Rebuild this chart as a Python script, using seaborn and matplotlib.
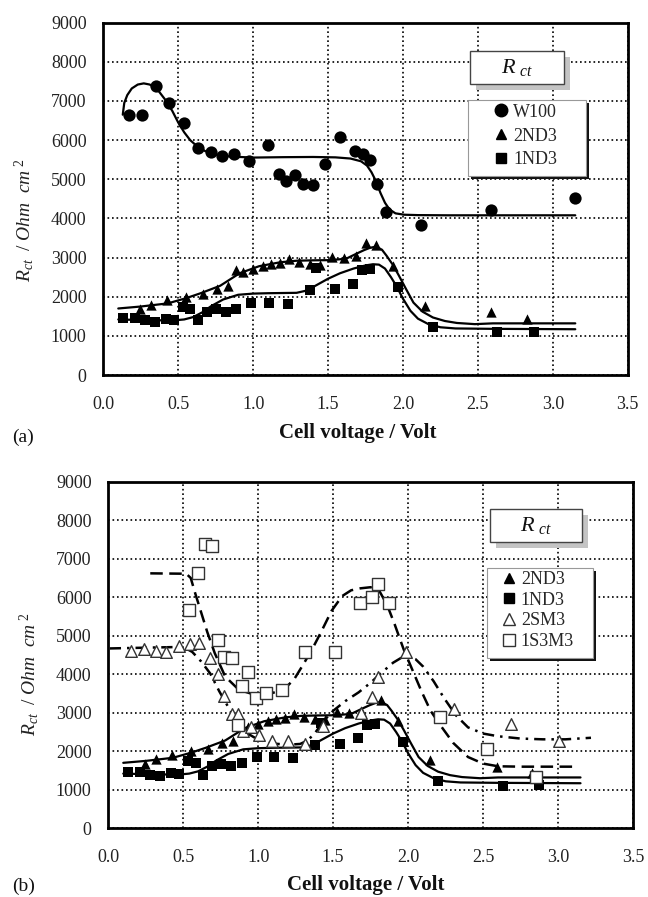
import matplotlib
matplotlib.use("Agg")
import matplotlib.pyplot as plt
import seaborn as sns
from matplotlib.lines import Line2D
from matplotlib.patches import Rectangle
from matplotlib import transforms

# ---------------- data ----------------
x_w100 = [0.17, 0.26, 0.35, 0.44, 0.54, 0.63, 0.72, 0.79, 0.875, 0.97, 1.10, 1.17, 1.22,
          1.28, 1.335, 1.40, 1.48, 1.58, 1.68, 1.73, 1.78, 1.83, 1.89, 2.12, 2.59, 3.15]
y_w100 = [6650, 6650, 7390, 6960, 6450, 5800, 5700, 5600, 5640, 5460, 5880, 5140, 4950,
          5120, 4880, 4860, 5400, 6070, 5710, 5640, 5500, 4880, 4160, 3830, 4210, 4510]

x_2nd3 = [0.244, 0.318, 0.427, 0.551, 0.667, 0.76, 0.829, 0.884, 0.933, 0.996, 1.067, 1.122, 1.178,
          1.24, 1.307, 1.378, 1.444, 1.529, 1.607, 1.684, 1.756, 1.822, 1.933, 2.144, 2.59, 2.826]
y_2nd3 = [1680, 1790, 1915, 2000, 2060, 2205, 2270, 2680, 2640, 2715, 2785, 2845, 2870,
          2955, 2885, 2845, 2800, 3015, 3000, 3040, 3380, 3320, 2785, 1765, 1600, 1430]

x_1nd3 = [0.133, 0.211, 0.278, 0.344, 0.416, 0.473, 0.529, 0.582, 0.633, 0.689, 0.751, 0.816, 0.889,
          0.989, 1.104, 1.233, 1.378, 1.422, 1.544, 1.667, 1.729, 1.778, 1.967, 2.20, 2.63, 2.876]
y_1nd3 = [1465, 1450, 1395, 1360, 1440, 1405, 1735, 1695, 1395, 1610, 1675, 1610, 1695,
          1847, 1847, 1821, 2170, 2740, 2187, 2332, 2681, 2698, 2247, 1231, 1104, 1112]

x_2sm3 = [0.154, 0.236, 0.319, 0.388, 0.47, 0.544, 0.608, 0.676, 0.729, 0.773, 0.828, 0.866, 0.90,
          0.949, 1.006, 1.094, 1.196, 1.314, 1.43, 1.685, 1.762, 1.798, 1.988, 2.304, 2.689, 3.005]
y_2sm3 = [4600, 4650, 4600, 4570, 4730, 4780, 4820, 4410, 4000, 3440, 2980, 2970, 2535,
          2640, 2420, 2275, 2275, 2190, 2660, 3000, 3420, 3940, 4585, 3090, 2710, 2270]

x_1s3m3 = [0.54, 0.60, 0.645, 0.69, 0.735, 0.775, 0.822, 0.862, 0.895, 0.935, 0.988, 1.055,
           1.158, 1.312, 1.512, 1.68, 1.76, 1.797, 1.87, 2.216, 2.524, 2.854]
y_1s3m3 = [5660, 6620, 7390, 7340, 4900, 4440, 4410, 2680, 3690, 4050, 3390, 3520,
           3580, 4570, 4570, 5860, 6010, 6340, 5860, 2880, 2060, 1320]

# fitted curves
cx_w100 = [0.13, 0.14, 0.16, 0.19, 0.23, 0.27, 0.31, 0.36, 0.41, 0.46, 0.50, 0.54, 0.58, 0.63,
           0.68, 0.75, 0.85, 1.0, 1.2, 1.4, 1.55, 1.65, 1.72, 1.76, 1.79, 1.82, 1.85, 1.88,
           1.91, 1.95, 2.01, 2.1, 2.3, 3.15]
cy_w100 = [6650, 6950, 7150, 7320, 7420, 7450, 7420, 7300, 7050, 6750, 6450, 6200, 6000, 5830,
           5720, 5630, 5580, 5555, 5565, 5570, 5560, 5530, 5460, 5350, 5180, 4950, 4650, 4400,
           4230, 4130, 4095, 4085, 4080, 4080]

cx_2nd3 = [0.1, 0.25, 0.43, 0.55, 0.65, 0.78, 0.91, 1.04, 1.18, 1.29, 1.4, 1.51, 1.62, 1.69,
           1.74, 1.78, 1.82, 1.86, 1.89, 1.93, 1.97, 2.02, 2.07, 2.13, 2.2, 2.28, 2.36, 2.48,
           2.6, 3.15]
cy_2nd3 = [1700, 1750, 1830, 1960, 2090, 2280, 2600, 2780, 2880, 2920, 2930, 2935, 2970, 3100,
           3190, 3250, 3280, 3200, 3050, 2830, 2560, 2200, 1850, 1620, 1470, 1380, 1330, 1300,
           1320, 1320]

cx_1nd3 = [0.1, 0.3, 0.47, 0.54, 0.6, 0.66, 0.72, 0.8, 0.9, 1.0, 1.1, 1.29, 1.36, 1.42, 1.5,
           1.58, 1.67, 1.75, 1.8, 1.84, 1.88, 1.92, 1.96, 2.0, 2.05, 2.1, 2.17, 2.25, 2.35,
           2.6, 3.15]
cy_1nd3 = [1420, 1400, 1395, 1420, 1480, 1600, 1760, 1930, 2050, 2080, 2090, 2100, 2160, 2290,
           2460, 2600, 2720, 2800, 2830, 2820, 2720, 2500, 2250, 1950, 1640, 1440, 1300, 1220,
           1190, 1180, 1170]

cx_1s3m3 = [0.28, 0.52, 0.55, 0.58, 0.62, 0.66, 0.71, 0.78, 0.87, 0.95, 1.02, 1.1, 1.17, 1.24,
            1.3, 1.36, 1.42, 1.49, 1.56, 1.62, 1.68, 1.75, 1.81, 1.86, 1.91, 1.97, 2.03, 2.09,
            2.15, 2.22, 2.3, 2.4, 2.5, 2.6, 2.75, 3.13]
cy_1s3m3 = [6620, 6610, 6500, 6100, 5600, 5100, 4550, 3940, 3600, 3500, 3470, 3520, 3600, 3870,
            4250, 4650, 5100, 5650, 6030, 6180, 6230, 6260, 6150, 5800, 5300, 4650, 4100, 3550,
            3050, 2650, 2220, 1850, 1680, 1610, 1600, 1600]

cx_2sm3 = [0.01, 0.25, 0.5, 0.56, 0.62, 0.68, 0.74, 0.8, 0.86, 0.93, 1.0, 1.1, 1.2, 1.28, 1.33,
           1.38, 1.44, 1.5, 1.58, 1.67, 1.75, 1.82, 1.9, 1.96, 2.0, 2.05, 2.1, 2.17, 2.24, 2.32,
           2.4, 2.5, 2.6, 2.75, 2.9, 3.05, 3.22]
cy_2sm3 = [4670, 4690, 4710, 4580, 4330, 4020, 3560, 3150, 2770, 2460, 2300, 2200, 2170, 2190,
           2280, 2480, 2800, 3050, 3300, 3530, 3780, 4030, 4300, 4440, 4460, 4390, 4200, 3820,
           3380, 2930, 2620, 2460, 2390, 2330, 2310, 2310, 2350]

x_ticks = [0.0, 0.5, 1.0, 1.5, 2.0, 2.5, 3.0, 3.5]
y_ticks = [0, 1000, 2000, 3000, 4000, 5000, 6000, 7000, 8000, 9000]
x_label = "Cell voltage / Volt"
y_label = r"$R_{ct}\ \ /\ Ohm\ \ cm^{\ 2}$"
box_label = r"$R\;{}_{ct}$"

# ---------------- style ----------------
sns.set_theme(style="white")
plt.rcParams["font.family"] = ["Liberation Serif", "DejaVu Serif"]
plt.rcParams["mathtext.fontset"] = "custom"
plt.rcParams["mathtext.it"] = "Liberation Serif:italic"
plt.rcParams["mathtext.rm"] = "Liberation Serif"
plt.rcParams["mathtext.cal"] = "Liberation Serif:italic"

fig = plt.figure(figsize=(6.48, 8.97), dpi=100)
ax1 = fig.add_axes([0.1594, 0.5819, 0.8093, 0.3928])
ax2 = fig.add_axes([0.1671, 0.0766, 0.8097, 0.3864])

DASH = (0, (5, 2.6))
DASHDOT = (0, (4.5, 2.4, 1.0, 2.4))
OPEN_EC = "#333333"


def style_axes(ax, ylab_xy, xlab_xy):
    ax.set_xlim(0, 3.5)
    ax.set_ylim(0, 9000)
    ax.set_xticks(x_ticks)
    ax.set_xticklabels([f"{v:.1f}" for v in x_ticks])
    ax.set_yticks(y_ticks)
    ax.set_yticklabels([str(v) for v in y_ticks])
    ax.tick_params(axis="x", length=0, pad=15, labelsize=13, colors="#222222")
    ax.tick_params(axis="y", length=0, pad=12, labelsize=13, colors="#222222")
    ax.grid(True, color="black", linestyle=(0, (1, 1.7)), linewidth=1.2)
    for s in ax.spines.values():
        s.set_linewidth(2.0)
        s.set_color("black")
    ax.set_xlabel(x_label, fontsize=15, fontweight="bold", color="#111111")
    ax.set_ylabel(y_label, fontsize=14, color="#222222")
    ax.xaxis.set_label_coords(*xlab_xy)
    ax.yaxis.set_label_coords(*ylab_xy)


def rct_box(ax, x0, y0, w, h):
    sh = transforms.offset_copy(ax.transAxes, fig=fig, x=6, y=-6, units="dots")
    ax.add_patch(Rectangle((x0, y0), w, h, transform=sh, facecolor="#c4c4c4",
                           edgecolor="none", zorder=5))
    ax.add_patch(Rectangle((x0, y0), w, h, transform=ax.transAxes, facecolor="white",
                           edgecolor="#444444", linewidth=1.0, zorder=6))
    ax.text(x0 + w / 2, y0 + h / 2, box_label, transform=ax.transAxes, ha="center",
            va="center", fontsize=16, zorder=7, color="#111111")


def legend_box(ax, x0, y0, w, h):
    sh = transforms.offset_copy(ax.transAxes, fig=fig, x=3, y=-3, units="dots")
    ax.add_patch(Rectangle((x0, y0), w, h, transform=sh, facecolor="#111111",
                           edgecolor="none", zorder=5))
    ax.add_patch(Rectangle((x0, y0), w, h, transform=ax.transAxes, facecolor="white",
                           edgecolor="#999999", linewidth=0.8, zorder=6))


# ---------------- panel (a) ----------------
sns.lineplot(x=cx_w100, y=cy_w100, ax=ax1, color="black", linewidth=1.6, sort=False,
             estimator=None, zorder=2)
sns.lineplot(x=cx_2nd3, y=cy_2nd3, ax=ax1, color="black", linewidth=1.6, sort=False,
             estimator=None, zorder=2)
sns.lineplot(x=cx_1nd3, y=cy_1nd3, ax=ax1, color="black", linewidth=1.6, sort=False,
             estimator=None, zorder=2)
sns.scatterplot(x=x_w100, y=y_w100, ax=ax1, marker="o", color="black", s=78,
                edgecolor="black", linewidth=0, zorder=3)
sns.scatterplot(x=x_2nd3, y=y_2nd3, ax=ax1, marker="^", color="black", s=55,
                edgecolor="black", linewidth=0, zorder=3)
sns.scatterplot(x=x_1nd3, y=y_1nd3, ax=ax1, marker="s", color="black", s=48,
                edgecolor="black", linewidth=0, zorder=3)
style_axes(ax1, (-0.128, 0.44), (0.486, -0.135))
rct_box(ax1, 0.699, 0.826, 0.180, 0.094)
legend_box(ax1, 0.695, 0.566, 0.225, 0.215)
h1 = [Line2D([], [], linestyle="none", marker="o", color="black", markersize=9),
      Line2D([], [], linestyle="none", marker="^", color="black", markersize=7.5),
      Line2D([], [], linestyle="none", marker="s", color="black", markersize=7)]
leg1 = ax1.legend(h1, ["W100", "2ND3", "1ND3"], loc="upper left",
                  bbox_to_anchor=(0.745, 0.770), frameon=False, fontsize=13,
                  handlelength=0.8, handletextpad=0.25, labelspacing=0.38,
                  borderpad=0, borderaxespad=0)
leg1.set_zorder(8)

# ---------------- panel (b) ----------------
sns.lineplot(x=cx_1s3m3, y=cy_1s3m3, ax=ax2, color="black", linewidth=1.8, sort=False,
             estimator=None, zorder=2, linestyle=DASH)
sns.lineplot(x=cx_2sm3, y=cy_2sm3, ax=ax2, color="black", linewidth=1.8, sort=False,
             estimator=None, zorder=2, linestyle=DASHDOT)
sns.lineplot(x=cx_2nd3, y=cy_2nd3, ax=ax2, color="black", linewidth=1.6, sort=False,
             estimator=None, zorder=2)
sns.lineplot(x=cx_1nd3, y=cy_1nd3, ax=ax2, color="black", linewidth=1.6, sort=False,
             estimator=None, zorder=2)
sns.scatterplot(x=x_2nd3, y=y_2nd3, ax=ax2, marker="^", color="black", s=55,
                edgecolor="black", linewidth=0, zorder=3)
sns.scatterplot(x=x_1nd3, y=y_1nd3, ax=ax2, marker="s", color="black", s=48,
                edgecolor="black", linewidth=0, zorder=3)
sns.scatterplot(x=x_2sm3, y=y_2sm3, ax=ax2, marker="^", color="white", s=70,
                edgecolor=OPEN_EC, linewidth=1.0, zorder=3)
sns.scatterplot(x=x_1s3m3, y=y_1s3m3, ax=ax2, marker="s", color="white", s=70,
                edgecolor=OPEN_EC, linewidth=1.0, zorder=3)
style_axes(ax2, (-0.128, 0.446), (0.491, -0.135))
rct_box(ax2, 0.727, 0.827, 0.176, 0.093)
legend_box(ax2, 0.721, 0.490, 0.202, 0.262)
h2 = [Line2D([], [], linestyle="none", marker="^", color="black", markersize=7.5),
      Line2D([], [], linestyle="none", marker="s", color="black", markersize=7),
      Line2D([], [], linestyle="none", marker="^", markerfacecolor="white",
             markeredgecolor=OPEN_EC, markersize=8.5),
      Line2D([], [], linestyle="none", marker="s", markerfacecolor="white",
             markeredgecolor=OPEN_EC, markersize=8)]
leg2 = ax2.legend(h2, ["2ND3", "1ND3", "2SM3", "1S3M3"], loc="upper left",
                  bbox_to_anchor=(0.750, 0.742), frameon=False, fontsize=13,
                  handlelength=0.8, handletextpad=0.25, labelspacing=0.2,
                  borderpad=0, borderaxespad=0)
leg2.set_zorder(8)

fig.text(0.018, 1 - 437 / 897, "(a)", fontsize=14, va="center", ha="left", color="#111111")
fig.text(0.018, 1 - 886 / 897, "(b)", fontsize=14, va="center", ha="left", color="#111111")

fig.savefig("out.png", dpi=100)
